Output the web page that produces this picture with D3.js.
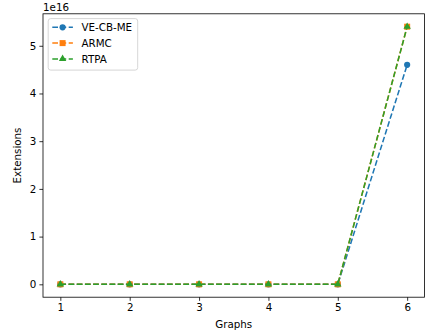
<!DOCTYPE html>
<html>
<head>
<meta charset="utf-8">
<script src="https://cdn.jsdelivr.net/npm/d3@7"></script>
<style>
  html, body { margin: 0; padding: 0; background: #fff; }
  svg { display: block; font-family: "DejaVu Sans", sans-serif; }
</style>
</head>
<body>
<svg id="chart" width="438" height="333"></svg>
<script>
// Extensions per graph for each method
const graphs = [1, 2, 3, 4, 5, 6];
const veCbMe = [0, 0, 0, 0, 0, 4.6e16];
const armc   = [0, 0, 0, 0, 0, 5.4e16];
const rtpa   = [0, 0, 0, 0, 0, 5.4e16];
const xTicks = [1, 2, 3, 4, 5, 6];
const yTicks = [0, 1e16, 2e16, 3e16, 4e16, 5e16];

const series = [
  { name: "VE-CB-ME", values: veCbMe, color: "#1f77b4", marker: d3.symbolCircle,   area: 30 },
  { name: "ARMC",     values: armc,   color: "#ff7f0e", marker: d3.symbolSquare,   area: 36 },
  { name: "RTPA",     values: rtpa,   color: "#2ca02c", marker: d3.symbolTriangle, area: 24 }
];

const svg = d3.select("#chart");
const plot = { left: 43, right: 424.5, top: 13.8, bottom: 297.2 };

// Data limits padded by 5% on each side
const xMin = d3.min(graphs), xMax = d3.max(graphs);
const xPad = (xMax - xMin) * 0.05;
const allY = series.flatMap(s => s.values);
const yMin = d3.min(allY), yMax = d3.max(allY);
const yPad = (yMax - yMin) * 0.05;

const x = d3.scaleLinear().domain([xMin - xPad, xMax + xPad]).range([plot.left, plot.right]);
const y = d3.scaleLinear().domain([yMin - yPad, yMax + yPad]).range([plot.bottom, plot.top]);

const fontSize = 10.3;
const lw = 1.54;
const dash = "5.7,2.5";

// Axes
const xAxis = d3.axisBottom(x).tickValues(xTicks).tickSize(3.6).tickPadding(3.2).tickFormat(d3.format("d"));
const yAxis = d3.axisLeft(y).tickValues(yTicks).tickSize(3.6).tickPadding(3.2).tickFormat(d => d3.format("d")(d / 1e16));

const gx = svg.append("g").attr("transform", `translate(0,${plot.bottom})`).call(xAxis);
const gy = svg.append("g").attr("transform", `translate(${plot.left},0)`).call(yAxis);
[gx, gy].forEach(g => {
  g.select(".domain").remove();
  g.selectAll(".tick line").attr("stroke", "#000").attr("stroke-width", 0.8);
  g.selectAll(".tick text").attr("fill", "#000").style("font-size", fontSize + "px")
    .style("font-family", "DejaVu Sans, sans-serif");
});

// Frame
svg.append("rect")
  .attr("x", plot.left).attr("y", plot.top)
  .attr("width", plot.right - plot.left).attr("height", plot.bottom - plot.top)
  .attr("fill", "none").attr("stroke", "#000").attr("stroke-width", 0.8);

// Offset text for the y scale
svg.append("text").attr("x", plot.left).attr("y", 10.5)
  .style("font-size", fontSize + "px").text("1e16");

// Axis titles
svg.append("text").attr("x", (plot.left + plot.right) / 2).attr("y", 328)
  .attr("text-anchor", "middle").style("font-size", fontSize + "px").text("Graphs");
svg.append("text")
  .attr("transform", `translate(21,${(plot.top + plot.bottom) / 2}) rotate(-90)`)
  .attr("text-anchor", "middle").style("font-size", fontSize + "px").text("Extensions");

// Lines and markers
const line = d3.line().x((d, i) => x(graphs[i])).y(d => y(d));

series.forEach(s => {
  const g = svg.append("g");
  g.append("path").datum(s.values)
    .attr("d", line).attr("fill", "none")
    .attr("stroke", s.color).attr("stroke-width", lw)
    .attr("stroke-dasharray", dash);
  g.selectAll("path.m").data(s.values).join("path")
    .attr("class", "m")
    .attr("transform", (d, i) => `translate(${x(graphs[i])},${y(d)})`)
    .attr("d", d3.symbol().type(s.marker).size(s.area))
    .attr("fill", s.color);
});

// Legend
const lg = svg.append("g").attr("transform", "translate(48.2,18.6)");
lg.append("rect").attr("width", 89.5).attr("height", 51.5).attr("rx", 2.5)
  .attr("fill", "#fff").attr("fill-opacity", 0.8)
  .attr("stroke", "#ccc").attr("stroke-width", 0.8);
series.forEach((s, i) => {
  const cy = 8.7 + i * 15.8;
  lg.append("line").attr("x1", 4.1).attr("x2", 24.7).attr("y1", cy).attr("y2", cy)
    .attr("stroke", s.color).attr("stroke-width", lw).attr("stroke-dasharray", dash);
  lg.append("path").attr("transform", `translate(14.4,${cy})`)
    .attr("d", d3.symbol().type(s.marker).size(s.area))
    .attr("fill", s.color);
  lg.append("text").attr("x", 33.3).attr("y", cy + 3.7)
    .style("font-size", fontSize + "px").text(s.name);
});
</script>
</body>
</html>
